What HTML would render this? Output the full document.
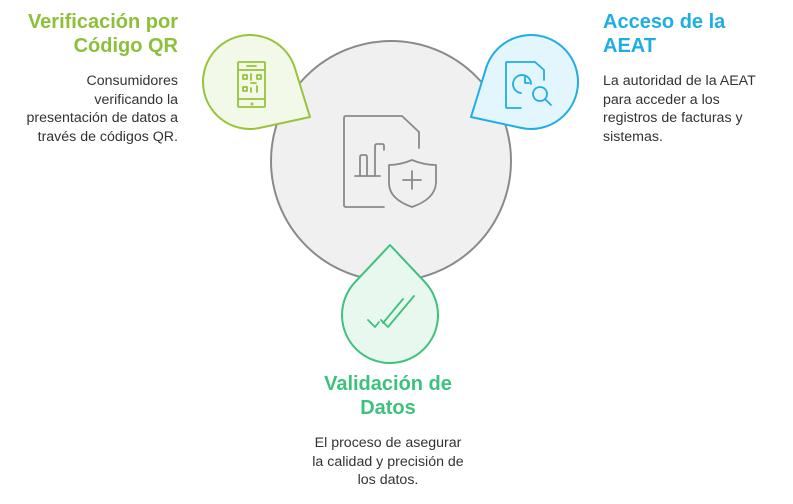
<!DOCTYPE html>
<html><head><meta charset="utf-8"><style>
body{margin:0;width:793px;height:504px;background:#fff;position:relative;font-family:"Liberation Sans",sans-serif;overflow:hidden}
.t{position:absolute;font-weight:bold;font-size:20px;line-height:24px}
.b{position:absolute;font-size:14.2px;line-height:18.6px;color:#333}
</style></head><body>
<svg width="793" height="504" style="position:absolute;left:0;top:0" fill="none" stroke-linecap="round" stroke-linejoin="round">
<circle cx="391" cy="161" r="120" fill="#f0f0f0" stroke="#8a8a8a" stroke-width="2"/>
<path d="M294.9 68.1 L310 117 L259.9 127.9 A47 47 0 1 1 294.9 68.1 Z" fill="#f3f9e8" stroke="#97c43a" stroke-width="2"/>
<path d="M486.1 68.1 L471 117 L521.1 127.9 A47 47 0 1 0 486.1 68.1 Z" fill="#e4f6fd" stroke="#1eaee4" stroke-width="2"/>
<path d="M355.1 282.1 L390 245 L424.9 282.1 A48 48 0 1 1 355.1 282.1 Z" fill="#e8f8ef" stroke="#3cc27c" stroke-width="2"/>
<g stroke="#8a8a8a" stroke-width="1.8">
<path d="M384 207 H346 Q344 207 344 205 V118 Q344 116 346 116 H402 L419 132 V148"/>
<path d="M355 176 H380 M360 176 V157 Q360 155 362 155 H365 Q367 155 367 157 V176 M375 176 V146 Q375 144 377 144 H382 Q384 144 384 146 V150"/>
<path d="M412 160 Q400 165 389 165 V183 Q389 199 412 207 Q435 199 436 183 V165 Q424 165 412 160 Z"/>
<path d="M412 171 V189 M403 180 H421"/>
</g>
<g stroke="#97c43a" stroke-width="1.8">
<rect x="238" y="62" width="27" height="45" rx="1"/>
<path d="M238 70 H265 M238 99 H265 M247 66 H256"/>
<circle cx="252" cy="104" r="0.6"/>
<rect x="243" y="75" width="4" height="4"/><rect x="257" y="75" width="4" height="4"/><rect x="243" y="87" width="4" height="4"/>
<path d="M251 74 V80 M251 83 H256 M257 86 V92 M251 88 V92"/>
</g>
<g stroke="#1eaee4" stroke-width="1.8">
<path d="M521 108 H507 Q506 108 506 107 V63 Q506 62 507 62 H535 L544 70 V80"/>
<path d="M531 84 A9 9 0 1 0 521 93"/>
<path d="M525 77 V83 H529"/>
<circle cx="540" cy="94" r="7"/>
<path d="M545 99 L551 105"/>
</g>
<g stroke="#3cc27c" stroke-width="1.8">
<path d="M368 320 L375 327 L379 322 M381 320 L388 327 L414 296 M383 323 L403 299"/>
</g>
</svg>
<div class="t" style="right:615px;top:10px;text-align:right;color:#8dc03a">Verificación por<br>Código QR</div>
<div class="b" style="right:615px;top:72px;text-align:right">Consumidores<br>verificando la<br>presentación de datos a<br>través de códigos QR.</div>
<div class="t" style="left:603px;top:10px;color:#1eaee4">Acceso de la<br>AEAT</div>
<div class="b" style="left:603px;top:72px">La autoridad de la AEAT<br>para acceder a los<br>registros de facturas y<br>sistemas.</div>
<div class="t" style="left:288px;width:200px;top:372px;text-align:center;color:#3cc27c">Validación de<br>Datos</div>
<div class="b" style="left:288px;width:200px;top:434px;text-align:center">El proceso de asegurar<br>la calidad y precisión de<br>los datos.</div>
</body></html>
